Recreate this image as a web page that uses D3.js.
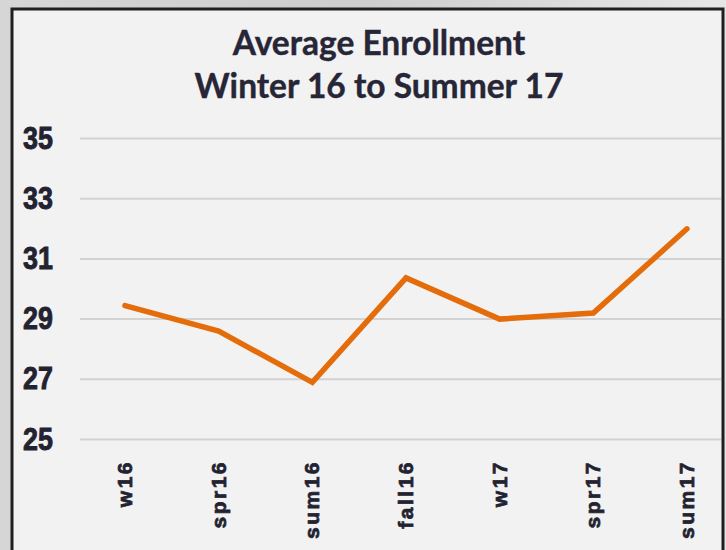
<!DOCTYPE html>
<html>
<head>
<meta charset="utf-8">
<script src="https://cdn.jsdelivr.net/npm/d3@7"></script>
<style>
  html, body { margin: 0; padding: 0; background: #e4e4e4; }
  svg { display: block; }
</style>
</head>
<body>
<svg id="chart" width="726" height="550"></svg>
<script>
const titleLines = ["Average Enrollment", "Winter 16 to Summer 17"];
const categories = ["w16", "spr16", "sum16", "fall16", "w17", "spr17", "sum17"];
const enrollment = [29.45, 28.6, 26.9, 30.37, 29.0, 29.2, 32.0];
const yTicks = [25, 27, 29, 31, 33, 35];

const svg = d3.select("#chart");
const W = 726, H = 550;

const defs = svg.append("defs");
const g1 = defs.append("linearGradient").attr("id", "outer").attr("x1", 0).attr("x2", 1).attr("y1", 0).attr("y2", 0);
g1.append("stop").attr("offset", "0").attr("stop-color", "#d6d6d6");
g1.append("stop").attr("offset", "0.5").attr("stop-color", "#cdcdcd");
g1.append("stop").attr("offset", "1").attr("stop-color", "#e6e6e6");
svg.append("rect").attr("width", W).attr("height", H).attr("fill", "url(#outer)");

svg.append("rect").attr("x", 12).attr("y", 9).attr("width", 711).attr("height", H + 20)
  .attr("fill", "#f2f2f2").attr("stroke", "#1f1f1f").attr("stroke-width", 3);

const x = d3.scalePoint().domain(categories).range([125, 687]);
const y = d3.scaleLinear().domain([25, 35]).range([439.5, 138.5]);

svg.append("g").selectAll("line").data(yTicks).join("line")
  .attr("x1", 80).attr("x2", 721)
  .attr("y1", d => y(d)).attr("y2", d => y(d))
  .attr("stroke", "#d2d2d2").attr("stroke-width", 2);

svg.append("g").selectAll("text").data(yTicks).join("text")
  .attr("transform", d => `translate(53,${y(d) + 10}) scale(0.84,1)`)
  .attr("text-anchor", "end")
  .attr("font-family", "'Liberation Sans', Arial, sans-serif")
  .attr("font-weight", "bold")
  .attr("font-size", 32)
  .attr("fill", "#222230")
  .attr("stroke", "#222230")
  .attr("stroke-width", 0.9)
  .text(d => d);

svg.append("g").selectAll("text").data(categories).join("text")
  .attr("transform", d => `translate(${x(d) + 7},460) rotate(-90)`)
  .attr("text-anchor", "end")
  .attr("font-family", "'Liberation Sans', Arial, sans-serif")
  .attr("font-weight", "bold")
  .attr("font-size", 21)
  .attr("letter-spacing", 2.5)
  .attr("fill", "#222230")
  .attr("stroke", "#222230")
  .attr("stroke-width", 0.7)
  .text(d => d);

const line = d3.line().x((d, i) => x(categories[i])).y(d => y(d));
svg.append("path").datum(enrollment)
  .attr("d", line)
  .attr("fill", "none")
  .attr("stroke", "#e46c0a")
  .attr("stroke-width", 5.5)
  .attr("stroke-linejoin", "miter")
  .attr("stroke-linecap", "round");

svg.append("g").selectAll("text").data(titleLines).join("text")
  .attr("x", 379)
  .attr("y", (d, i) => 55 + i * 43)
  .attr("text-anchor", "middle")
  .attr("font-family", "Lato, 'Open Sans', sans-serif")
  .attr("font-weight", "bold")
  .attr("font-size", 33.5)
  .attr("fill", "#262636")
  .attr("stroke", "#262636")
  .attr("stroke-width", 0.4)
  .text(d => d);
</script>
</body>
</html>
